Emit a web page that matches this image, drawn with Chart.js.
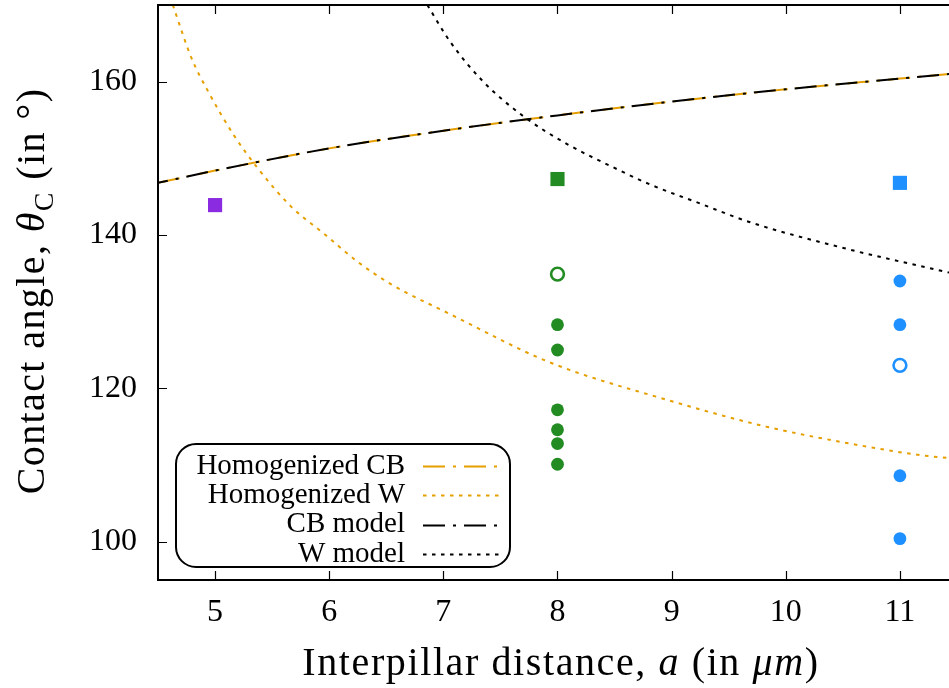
<!DOCTYPE html>
<html lang="en">
<head>
<meta charset="UTF-8">
<title>Contact angle vs interpillar distance</title>
<script src="https://cdn.jsdelivr.net/npm/chart.js"></script>
<style>
    html, body { margin: 0; padding: 0; background: #fff; }
    #wrap { width: 949px; height: 688px; }
</style>
</head>
<body>
<div id="wrap"><canvas id="chart" width="949" height="688"></canvas></div>
<script>
// tick labels
const xTicks = [5, 6, 7, 8, 9, 10, 11];
const yTicks = [100, 120, 140, 160];

// model curves
const cbX = [4.5, 5, 6, 7, 8, 9, 10, 11, 11.43];
const cbY = [146.8, 148.4, 151.3, 153.6, 155.6, 157.4, 159.0, 160.4, 161.0];
const homWX = [4.63, 4.79, 4.94, 5.17, 5.38, 5.66, 5.96, 6.25, 6.54, 7.07, 7.93, 8.96, 9.83, 10.71, 11.17, 11.43];
const homWY = [170, 163.2, 158.7, 152.9, 148.6, 143.8, 140.1, 136.5, 133.6, 129.6, 123.4, 118.5, 115.0, 112.4, 111.3, 110.9];
const wX = [6.86, 7.06, 7.35, 7.70, 8.08, 8.52, 8.81, 9.25, 9.68, 10.56, 11.43];
const wY = [170, 165.2, 160, 155.5, 151.9, 148.6, 146.6, 144.1, 141.7, 138.1, 135.1];

// measurements
const squareX = [5, 8, 11];
const squareY = [143.9, 147.3, 146.8];
const green8Y = [128.3, 125.0, 117.2, 114.6, 112.8, 110.1];
const green8OpenY = [134.9];
const blue11Y = [134.0, 128.3, 108.6, 100.4];
const blue11OpenY = [123.0];

const ORANGE = '#e69f00';
const PURPLE = '#8a2be2';
const GREEN = '#228b22';
const BLUE = '#1e90ff';
const SERIF = "'Liberation Serif', 'DejaVu Serif', serif";

function pts(xs, ys) { return xs.map((x, i) => ({ x: x, y: ys[i] })); }
function column(x, ys) { return ys.map(y => ({ x: x, y: y })); }

function curve(label, xs, ys, color, dash, offset, order) {
    return {
        label: label, inLegend: true, data: pts(xs, ys), showLine: true,
        borderColor: color, backgroundColor: color, borderWidth: 2,
        borderDash: dash, borderDashOffset: offset || 0,
        pointRadius: 0, cubicInterpolationMode: 'monotone', order: order
    };
}

function drawRich(ctx, segs, cx, baseline, size) {
    const fontOf = s => (s.italic ? 'italic ' : '') + Math.round(size * (s.sub ? 0.7 : 1)) + 'px ' + SERIF;
    let total = 0;
    segs.forEach(s => { ctx.font = fontOf(s); total += ctx.measureText(s.t).width; });
    let x = cx - total / 2;
    segs.forEach(s => {
        ctx.font = fontOf(s);
        ctx.fillText(s.t, x, baseline + (s.sub ? size * 0.22 : 0));
        x += ctx.measureText(s.t).width;
    });
}

const decor = {
    id: 'decor',
    afterDraw(chart) {
        const ctx = chart.ctx;
        const a = chart.chartArea;
        const xs = chart.scales.x, ys = chart.scales.y;
        ctx.save();
        // frame (left, top, bottom)
        ctx.strokeStyle = '#000';
        ctx.lineWidth = 2;
        ctx.beginPath();
        ctx.moveTo(a.right + 2, a.top); ctx.lineTo(a.left, a.top);
        ctx.lineTo(a.left, a.bottom); ctx.lineTo(a.right + 2, a.bottom);
        ctx.stroke();
        // inward ticks
        ctx.lineWidth = 1.2;
        ctx.beginPath();
        xTicks.forEach(v => {
            const px = Math.round(xs.getPixelForValue(v)) + 0.5;
            ctx.moveTo(px, a.bottom); ctx.lineTo(px, a.bottom - 9);
            ctx.moveTo(px, a.top); ctx.lineTo(px, a.top + 9);
        });
        yTicks.forEach(v => {
            const py = Math.round(ys.getPixelForValue(v)) + 0.5;
            ctx.moveTo(a.left, py); ctx.lineTo(a.left + 9, py);
        });
        ctx.stroke();

        // axis titles
        ctx.fillStyle = '#000';
        ctx.textAlign = 'left';
        ctx.textBaseline = 'alphabetic';
        ctx.letterSpacing = '1.6px';
        drawRich(ctx, [
            { t: 'Interpillar distance, ' }, { t: 'a', italic: true },
            { t: ' (in ' }, { t: 'μm', italic: true }, { t: ')' }
        ], 561, 675, 40);
        ctx.letterSpacing = '1.4px';
        ctx.save();
        ctx.translate(44, 291);
        ctx.rotate(-Math.PI / 2);
        drawRich(ctx, [
            { t: 'Contact angle, ' }, { t: 'θ', italic: true }, { t: 'C', sub: true },
            { t: ' (in °)' }
        ], 0, 0, 40);
        ctx.restore();
        ctx.letterSpacing = '0px';

        // legend
        ctx.beginPath();
        ctx.roundRect(176, 444, 334, 123, 20);
        ctx.fillStyle = '#fff';
        ctx.fill();
        ctx.lineWidth = 2;
        ctx.strokeStyle = '#000';
        ctx.stroke();
        const items = chart.data.datasets.filter(d => d.inLegend);
        ctx.font = '29px ' + SERIF;
        ctx.textAlign = 'right';
        ctx.textBaseline = 'middle';
        items.forEach((d, i) => {
            const y = 466 + i * 29.3;
            ctx.fillStyle = '#000';
            ctx.fillText(d.label, 405, y);
            ctx.beginPath();
            ctx.setLineDash(d.borderDash);
            ctx.lineDashOffset = 0;
            ctx.strokeStyle = d.borderColor;
            ctx.lineWidth = d.borderWidth;
            ctx.moveTo(423, Math.round(y) + 0.5);
            ctx.lineTo(500, Math.round(y) + 0.5);
            ctx.stroke();
        });
        ctx.restore();
    }
};

const datasets = [
    curve('Homogenized CB', cbX, cbY, ORANGE, [22, 8, 3, 8], 0, 3),
    curve('Homogenized W', homWX, homWY, ORANGE, [3.5, 5.5], 0, 3),
    curve('CB model', cbX, cbY, '#000', [22, 8, 3, 8], 12, 2),
    curve('W model', wX, wY, '#000', [3.5, 5.5], 0, 2),
    {
        label: 'squares', data: pts(squareX, squareY), pointStyle: 'rect', pointRadius: 10,
        backgroundColor: [PURPLE, GREEN, BLUE], borderWidth: 0, order: 0
    },
    {
        label: 'a = 8', data: column(8, green8Y), pointStyle: 'circle', pointRadius: 6.4,
        backgroundColor: GREEN, borderWidth: 0, order: 0
    },
    {
        label: 'a = 8 open', data: column(8, green8OpenY), pointStyle: 'circle', pointRadius: 6.4,
        backgroundColor: '#fff', borderColor: GREEN, borderWidth: 2.6, order: 0
    },
    {
        label: 'a = 11', data: column(11, blue11Y), pointStyle: 'circle', pointRadius: 6.4,
        backgroundColor: BLUE, borderWidth: 0, order: 0
    },
    {
        label: 'a = 11 open', data: column(11, blue11OpenY), pointStyle: 'circle', pointRadius: 6.4,
        backgroundColor: '#fff', borderColor: BLUE, borderWidth: 2.6, order: 0
    }
];

new Chart(document.getElementById('chart').getContext('2d'), {
    type: 'scatter',
    data: { datasets: datasets },
    options: {
        responsive: false,
        animation: false,
        events: [],
        devicePixelRatio: 1,
        layout: { autoPadding: false, padding: { top: 5, right: 0, left: 0, bottom: 0 } },
        plugins: { legend: { display: false }, tooltip: { enabled: false } },
        scales: {
            x: {
                type: 'linear', min: 4.5, max: 11.43,
                afterBuildTicks: s => { s.ticks = xTicks.map(v => ({ value: v })); },
                afterFit: s => { s.height = 108; s.paddingLeft = 0; s.paddingRight = 0; },
                grid: { display: false, drawTicks: false },
                border: { display: false },
                ticks: { font: { family: SERIF, size: 32 }, color: '#000', padding: 13, maxRotation: 0 }
            },
            y: {
                type: 'linear', min: 95, max: 170,
                afterBuildTicks: s => { s.ticks = yTicks.map(v => ({ value: v })); },
                afterFit: s => { s.width = 158; s.paddingTop = 0; s.paddingBottom = 0; },
                grid: { display: false, drawTicks: false },
                border: { display: false },
                ticks: { font: { family: SERIF, size: 32 }, color: '#000', padding: 21 }
            }
        }
    },
    plugins: [decor]
});
</script>
</body>
</html>
